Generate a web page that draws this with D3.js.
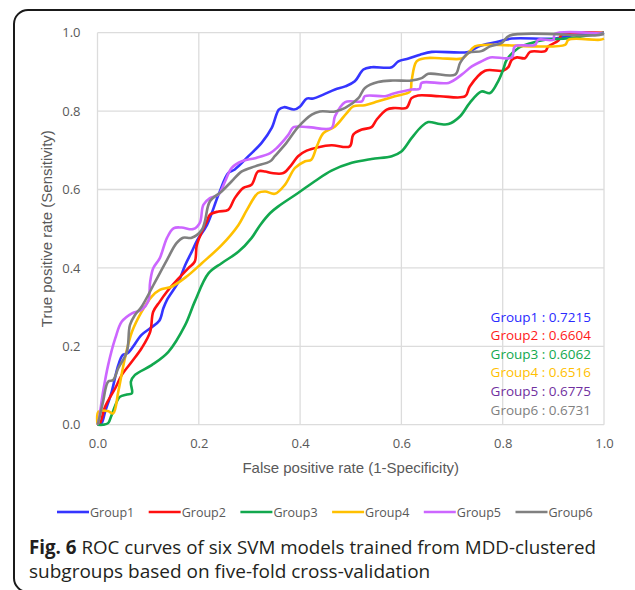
<!DOCTYPE html>
<html>
<head>
<meta charset="utf-8">
<script src="https://cdn.jsdelivr.net/npm/d3@7"></script>
<style>
  body { margin: 0; background: #fff; }
  svg { display: block; }
</style>
</head>
<body>
<div id="chart"></div>
<script>
// ROC points: [false positive rate, true positive rate]
const group1 = [[0,0],[0.008,0.004],[0.015,0.033],[0.028,0.084],[0.041,0.152],[0.050,0.178],[0.060,0.183],[0.087,0.229],[0.104,0.246],[0.122,0.265],[0.130,0.297],[0.137,0.318],[0.160,0.365],[0.173,0.407],[0.186,0.441],[0.197,0.471],[0.216,0.509],[0.239,0.587],[0.258,0.642],[0.271,0.651],[0.298,0.685],[0.324,0.719],[0.344,0.757],[0.358,0.804],[0.368,0.810],[0.388,0.804],[0.400,0.812],[0.413,0.832],[0.426,0.832],[0.446,0.842],[0.469,0.855],[0.489,0.863],[0.508,0.876],[0.525,0.906],[0.541,0.912],[0.581,0.912],[0.594,0.927],[0.614,0.934],[0.637,0.944],[0.660,0.951],[0.732,0.951],[0.752,0.965],[0.788,0.976],[0.818,0.985],[0.903,0.985],[0.943,0.995],[0.989,0.997],[1,1]];
const group2 = [[0,0],[0.005,0.004],[0.015,0.046],[0.035,0.093],[0.048,0.127],[0.068,0.161],[0.087,0.195],[0.104,0.237],[0.110,0.288],[0.123,0.314],[0.137,0.339],[0.160,0.373],[0.179,0.399],[0.192,0.416],[0.196,0.458],[0.206,0.492],[0.216,0.519],[0.222,0.536],[0.239,0.544],[0.258,0.548],[0.271,0.578],[0.288,0.604],[0.304,0.612],[0.317,0.646],[0.331,0.646],[0.344,0.642],[0.367,0.642],[0.383,0.663],[0.396,0.685],[0.413,0.699],[0.436,0.708],[0.462,0.713],[0.498,0.710],[0.505,0.740],[0.522,0.753],[0.541,0.759],[0.551,0.778],[0.571,0.804],[0.587,0.808],[0.610,0.808],[0.620,0.833],[0.633,0.840],[0.676,0.838],[0.726,0.838],[0.735,0.863],[0.765,0.903],[0.801,0.903],[0.811,0.912],[0.818,0.931],[0.828,0.937],[0.844,0.935],[0.854,0.951],[0.884,0.953],[0.890,0.965],[0.910,0.980],[0.917,0.995],[1,1]];
const group3 = [[0,0],[0.011,0],[0.021,0.004],[0.028,0.025],[0.044,0.071],[0.058,0.077],[0.068,0.080],[0.066,0.110],[0.074,0.127],[0.107,0.152],[0.140,0.186],[0.173,0.254],[0.192,0.314],[0.219,0.386],[0.245,0.412],[0.278,0.441],[0.304,0.476],[0.321,0.509],[0.341,0.540],[0.357,0.557],[0.396,0.591],[0.429,0.621],[0.462,0.648],[0.502,0.668],[0.541,0.678],[0.581,0.685],[0.600,0.697],[0.620,0.731],[0.640,0.761],[0.653,0.772],[0.676,0.767],[0.693,0.767],[0.716,0.787],[0.735,0.821],[0.758,0.850],[0.775,0.846],[0.791,0.876],[0.801,0.906],[0.808,0.931],[0.831,0.961],[0.857,0.974],[0.884,0.982],[0.930,0.986],[1,1]];
const group4 = [[0,0],[0.002,0.033],[0.020,0.035],[0.031,0.029],[0.041,0.084],[0.054,0.169],[0.068,0.237],[0.087,0.288],[0.107,0.327],[0.123,0.344],[0.146,0.352],[0.176,0.378],[0.206,0.412],[0.245,0.458],[0.278,0.509],[0.295,0.548],[0.317,0.591],[0.331,0.595],[0.350,0.589],[0.370,0.612],[0.390,0.655],[0.410,0.672],[0.422,0.676],[0.433,0.710],[0.446,0.744],[0.469,0.761],[0.492,0.795],[0.505,0.812],[0.528,0.815],[0.554,0.825],[0.587,0.838],[0.617,0.850],[0.620,0.876],[0.630,0.927],[0.647,0.935],[0.676,0.935],[0.719,0.934],[0.729,0.944],[0.745,0.965],[0.772,0.969],[0.923,0.969],[0.930,0.982],[0.992,0.982],[1,0.985]];
const group5 = [[0,0],[0.002,0.008],[0.011,0.084],[0.021,0.152],[0.035,0.220],[0.048,0.263],[0.068,0.284],[0.087,0.293],[0.100,0.314],[0.104,0.365],[0.110,0.399],[0.123,0.425],[0.137,0.476],[0.150,0.501],[0.166,0.503],[0.189,0.499],[0.202,0.515],[0.209,0.561],[0.222,0.578],[0.239,0.587],[0.252,0.621],[0.265,0.655],[0.285,0.672],[0.311,0.680],[0.341,0.693],[0.354,0.706],[0.377,0.740],[0.387,0.759],[0.416,0.759],[0.462,0.757],[0.469,0.787],[0.489,0.823],[0.522,0.825],[0.528,0.838],[0.568,0.838],[0.583,0.844],[0.620,0.855],[0.636,0.857],[0.640,0.872],[0.693,0.872],[0.719,0.893],[0.739,0.914],[0.758,0.927],[0.775,0.937],[0.818,0.937],[0.824,0.965],[0.864,0.969],[0.870,0.982],[0.900,0.982],[0.903,0.997],[1,0.997]];
const group6 = [[0,0],[0.002,0.008],[0.011,0.059],[0.021,0.110],[0.031,0.114],[0.041,0.144],[0.058,0.186],[0.064,0.254],[0.074,0.280],[0.087,0.301],[0.114,0.365],[0.137,0.420],[0.156,0.463],[0.169,0.477],[0.186,0.477],[0.206,0.497],[0.212,0.519],[0.222,0.570],[0.245,0.595],[0.265,0.621],[0.285,0.646],[0.311,0.659],[0.341,0.672],[0.350,0.685],[0.373,0.719],[0.396,0.759],[0.423,0.791],[0.439,0.799],[0.469,0.799],[0.489,0.808],[0.515,0.833],[0.528,0.859],[0.554,0.874],[0.583,0.878],[0.620,0.878],[0.640,0.884],[0.653,0.895],[0.706,0.893],[0.716,0.923],[0.732,0.948],[0.758,0.953],[0.775,0.965],[0.798,0.974],[0.814,0.993],[0.982,0.993],[1,0.997]];

const groupNames = ["Group1", "Group2", "Group3", "Group4", "Group5", "Group6"];
const aucValues = ["0.7215", "0.6604", "0.6062", "0.6516", "0.6775", "0.6731"];
const lineColors = ["#3535ff", "#ff1010", "#12a84e", "#ffc000", "#cc66ff", "#808080"];
const aucColors = ["#2a2aff", "#ff1a1a", "#12a84e", "#ffc000", "#7030a0", "#808080"];
const tickValues = [0, 0.2, 0.4, 0.6, 0.8, 1.0];

const series = [group1, group2, group3, group4, group5, group6];

const width = 635, height = 590;
const plotLeft = 97.5, plotRight = 604, plotTop = 32.7, plotBottom = 424.7;

const svg = d3.select("#chart").append("svg")
  .attr("width", width)
  .attr("height", height);

// rounded frame, right and bottom edges mostly out of view
svg.append("rect")
  .attr("x", 14).attr("y", 10)
  .attr("width", 640).attr("height", 582)
  .attr("rx", 14).attr("ry", 14)
  .attr("fill", "none")
  .attr("stroke", "#1a1a1a")
  .attr("stroke-width", 2);

const x = d3.scaleLinear().domain([0, 1]).range([plotLeft, plotRight]);
const y = d3.scaleLinear().domain([0, 1]).range([plotBottom, plotTop]);

// grid
const grid = svg.append("g");
grid.selectAll("line.h")
  .data(tickValues)
  .enter().append("line")
  .attr("class", "h")
  .attr("x1", plotLeft).attr("x2", plotRight)
  .attr("y1", d => y(d)).attr("y2", d => y(d))
  .attr("stroke", "#dcdcdc").attr("stroke-width", 1.3);
grid.selectAll("line.v")
  .data(tickValues)
  .enter().append("line")
  .attr("class", "v")
  .attr("y1", plotTop).attr("y2", plotBottom)
  .attr("x1", d => x(d)).attr("x2", d => x(d))
  .attr("stroke", "#dcdcdc").attr("stroke-width", 1.3);

const xAxis = d3.axisBottom(x)
  .tickValues(tickValues)
  .tickFormat(d3.format(".1f"))
  .tickSize(0)
  .tickPadding(14);

const xAxisGroup = svg.append("g")
  .attr("transform", `translate(0,${plotBottom})`)
  .call(xAxis);
xAxisGroup.select(".domain").remove();
xAxisGroup.selectAll(".tick text")
  .style("font-family", "'Open Sans', sans-serif")
  .style("font-size", "13px")
  .attr("fill", "#595959");

const yAxis = d3.axisLeft(y)
  .tickValues(tickValues)
  .tickFormat(d3.format(".1f"))
  .tickSize(0)
  .tickPadding(17);

const yAxisGroup = svg.append("g")
  .attr("transform", `translate(${plotLeft},0)`)
  .call(yAxis);
yAxisGroup.select(".domain").remove();
yAxisGroup.selectAll(".tick text")
  .style("font-family", "'Open Sans', sans-serif")
  .style("font-size", "13px")
  .attr("fill", "#595959");

// axis titles
svg.append("text")
  .attr("x", (plotLeft + plotRight) / 2)
  .attr("y", 473)
  .attr("text-anchor", "middle")
  .style("font-family", "'Liberation Sans', Arial, sans-serif")
  .style("font-size", "15px")
  .attr("fill", "#595959")
  .text("False positive rate (1-Specificity)");

svg.append("text")
  .attr("transform", `translate(52,${(plotTop + plotBottom) / 2}) rotate(-90)`)
  .attr("text-anchor", "middle")
  .style("font-family", "'Liberation Sans', Arial, sans-serif")
  .style("font-size", "15px")
  .attr("fill", "#595959")
  .text("True positive rate (Sensitivity)");

// curves
const line = d3.line()
  .x(d => x(d[0]))
  .y(d => y(d[1]))
  .curve(d3.curveCatmullRom.alpha(0.5));

svg.append("g")
  .selectAll("path")
  .data(series)
  .enter().append("path")
  .attr("d", line)
  .attr("fill", "none")
  .attr("stroke", (d, i) => lineColors[i])
  .attr("stroke-width", 2.6)
  .attr("stroke-linejoin", "round");

// AUC labels
svg.append("g")
  .selectAll("text")
  .data(groupNames)
  .enter().append("text")
  .attr("x", 591)
  .attr("y", (d, i) => 321.5 + i * 18.6)
  .attr("text-anchor", "end")
  .style("font-family", "'Open Sans', sans-serif")
  .style("font-size", "13.5px")
  .attr("fill", (d, i) => aucColors[i])
  .text((d, i) => `${d} : ${aucValues[i]}`);

// legend
const legend = svg.append("g")
  .selectAll("g")
  .data(groupNames)
  .enter().append("g")
  .attr("transform", (d, i) => `translate(${57 + i * 91.7},512)`);

legend.append("line")
  .attr("x1", 0).attr("x2", 32)
  .attr("y1", 0).attr("y2", 0)
  .attr("stroke", (d, i) => lineColors[i])
  .attr("stroke-width", 2.6);

legend.append("text")
  .attr("x", 33)
  .attr("y", 4.5)
  .style("font-family", "'Open Sans', sans-serif")
  .style("font-size", "12.5px")
  .attr("fill", "#595959")
  .text(d => d);

// caption
const caption = svg.append("g")
  .style("font-family", "'Open Sans', sans-serif")
  .style("font-size", "19px")
  .attr("fill", "#231f20");

const cap1 = caption.append("text").attr("x", 29).attr("y", 554);
cap1.append("tspan").style("font-weight", "bold").text("Fig. 6");
cap1.append("tspan").text(" ROC curves of six SVM models trained from MDD-clustered");

caption.append("text").attr("x", 29).attr("y", 578)
  .text("subgroups based on five-fold cross-validation");

// squeeze caption lines to the width they take in the figure
const fitWidths = [567, 455];
caption.selectAll("text").each(function (d, i) {
  const w = this.getComputedTextLength();
  if (w > fitWidths[i]) {
    d3.select(this).attr("textLength", fitWidths[i]).attr("lengthAdjust", "spacingAndGlyphs");
  }
});
</script>
</body>
</html>
